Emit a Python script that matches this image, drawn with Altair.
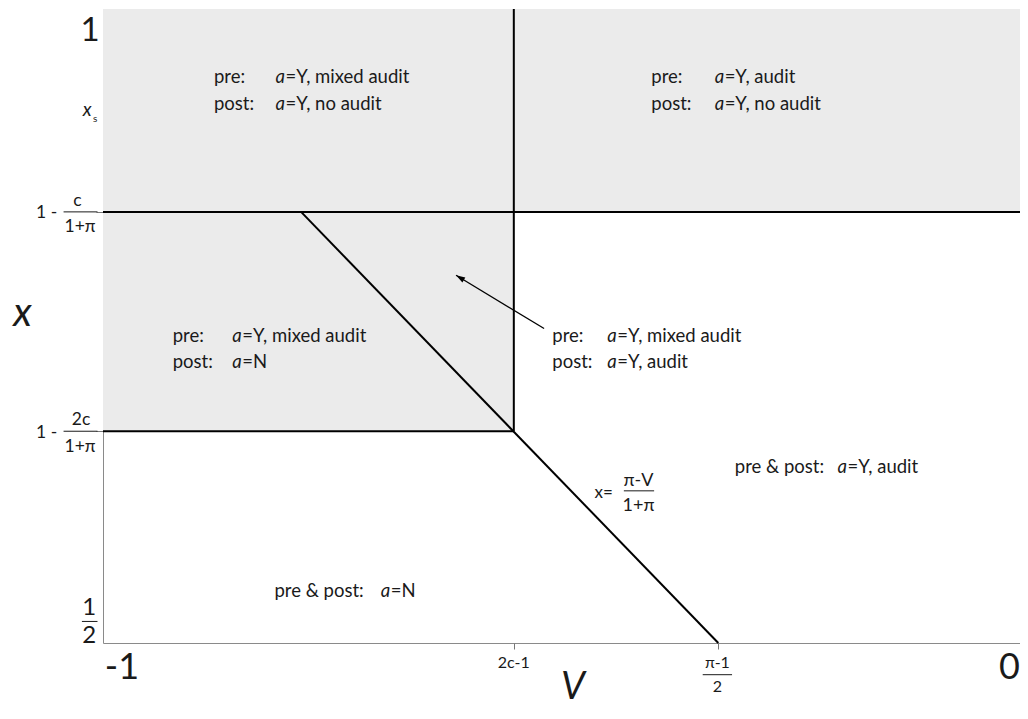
import altair as alt
import pandas as pd

FONT = "Lato"
INK = "#1a1a1a"

# Region boundaries (data units: V on horizontal axis, x on vertical axis)
V_2C1 = -0.552        # 2c-1
V_PI = -0.329         # (pi-1)/2
X_HI = 0.840          # 1 - c/(1+pi)
X_LO = 0.667          # 1 - 2c/(1+pi)
V_DIAG_TOP = -0.784   # where x=(pi-V)/(1+pi) meets X_HI

# Shaded regions
shade_v = [-1.0, -1.0]
shade_v2 = [0.0, V_2C1]
shade_x = [X_HI, X_LO]
shade_x2 = [1.0, X_HI]

# Boundary lines
line_v = [-1.0, -1.0, V_2C1, V_DIAG_TOP]
line_v2 = [0.0, V_2C1, V_2C1, V_PI]
line_x = [X_HI, X_LO, X_LO, X_HI]
line_x2 = [X_HI, X_LO, 1.0, 0.5]

# Arrow (tail -> head)
arrow_tail = (-0.519, 0.748)
arrow_head = (-0.615, 0.790)

# Fraction bars
bar_v = [-1.043, -1.043, -1.023, -0.346, -0.432]
bar_v2 = [-1.006, -1.006, -1.006, -0.314, -0.399]
bar_x = [X_HI, X_LO, 0.517, 0.475, 0.620]

R = 18.5  # region label size

# Text annotations
ital_text = ["a", "a", "a", "a", "a", "a", "a", "a", "a", "a", "x", "x", "V"]
ital_v = [-0.812, -0.812, -0.333, -0.333, -0.859, -0.859, -0.450, -0.450, -0.199, -0.697, -1.022, -1.098, -0.5005]
ital_x = [0.942, 0.920, 0.942, 0.920, 0.737, 0.717, 0.737, 0.717, 0.634, 0.536, 0.916, 0.750, 0.456]
ital_size = [R] * 10 + [19, 40, 38]

rest_text = ["=Y, mixed audit", "=Y, no audit", "=Y, audit", "=Y, no audit",
             "=Y, mixed audit", "=N", "=Y, mixed audit", "=Y, audit", "=Y, audit", "=N"]
rest_v = ital_v[:10]
rest_x = ital_x[:10]

left_text = ["pre:", "post:", "pre:", "post:", "pre:", "post:", "pre:", "post:",
             "pre & post:", "pre & post:", "x=", "s", "-1"]
left_v = [-0.879, -0.879, -0.402, -0.402, -0.924, -0.924, -0.510, -0.510,
          -0.311, -0.813, -0.464, -1.011, -0.998]
left_x = [0.942, 0.920, 0.942, 0.920, 0.737, 0.717, 0.737, 0.717,
          0.634, 0.536, 0.614, 0.911, 0.472]
left_size = [R] * 10 + [17, 10, 36]

center_text = ["π-V", "1+π", "2c-1", "π-1", "2", "c", "1+π", "2c", "1+π", "1", "2", "1"]
center_v = [-0.416, -0.416, -0.552, -0.330, -0.330, -1.028, -1.025, -1.024, -1.025, -1.015, -1.015, -1.014]
center_x = [0.624, 0.604, 0.480, 0.480, 0.461, 0.845, 0.824, 0.672, 0.651, 0.522, 0.500, 0.9745]
center_size = [18, 18, 16, 16, 16, 17.5, 17.5, 17.5, 17.5, 24, 24, 33]

right_text = ["1 -", "1 -", "0"]
right_v = [-1.050, -1.050, 0.0]
right_x = [0.835, 0.662, 0.472]
right_size = [17.5, 17.5, 36]

xs = alt.Scale(domain=[-1, 0], nice=False, zero=False)
ys = alt.Scale(domain=[0.5, 1], nice=False, zero=False)


def X(field, **kw):
    return alt.X(field, scale=xs, title=None, **kw)


def Y(field, **kw):
    return alt.Y(field, scale=ys, title=None, **kw)


shade = alt.Chart(pd.DataFrame({"v": shade_v, "v2": shade_v2, "x": shade_x, "x2": shade_x2})).mark_rect(
    color="#ebebeb"
).encode(
    x=X("v:Q", axis=alt.Axis(values=[V_2C1, V_PI], labels=False, ticks=True, tickSize=6,
                              tickColor="#777", domain=False, grid=False)),
    x2="v2:Q",
    y=Y("x:Q", axis=alt.Axis(values=[X_HI, X_LO], labels=False, ticks=True, tickSize=7,
                              tickColor="#777", domain=False, grid=False)),
    y2="x2:Q",
)

lines = alt.Chart(pd.DataFrame({"v": line_v, "v2": line_v2, "x": line_x, "x2": line_x2})).mark_rule(
    color="black", strokeWidth=2
).encode(x=X("v:Q"), x2="v2:Q", y=Y("x:Q"), y2="x2:Q")

arrow_df = pd.DataFrame({"v": [arrow_tail[0]], "v2": [arrow_head[0]],
                         "x": [arrow_tail[1]], "x2": [arrow_head[1]]})
arrow_line = alt.Chart(arrow_df).mark_rule(color="black", strokeWidth=1.3).encode(
    x=X("v:Q"), x2="v2:Q", y=Y("x:Q"), y2="x2:Q")
arrow_tip = alt.Chart(arrow_df).mark_point(
    shape="M0,0 L0.5,1.6 L-0.5,1.6 Z", filled=True, color="black", opacity=1, size=130, angle=301
).encode(x=X("v2:Q"), y=Y("x2:Q"))

bars = alt.Chart(pd.DataFrame({"v": bar_v, "v2": bar_v2, "x": bar_x})).mark_rule(
    color=INK, strokeWidth=1
).encode(x=X("v:Q"), x2="v2:Q", y=Y("x:Q"))


def text_layer(texts, vs, xvals, sizes, align, style="normal", dx=0):
    df = pd.DataFrame({"t": texts, "v": vs, "x": xvals, "s": sizes})
    return alt.Chart(df).mark_text(
        align=align, baseline="alphabetic", font=FONT, fontStyle=style, color=INK, dx=dx
    ).encode(x=X("v:Q"), y=Y("x:Q"), text="t:N", size=alt.Size("s:Q", scale=None, legend=None))


ital = text_layer(ital_text, ital_v, ital_x, ital_size, "left", "italic")
rest = text_layer(rest_text, rest_v, rest_x, [R] * 10, "left", dx=10)
left = text_layer(left_text, left_v, left_x, left_size, "left")
center = text_layer(center_text, center_v, center_x, center_size, "center")
right = text_layer(right_text, right_v, right_x, right_size, "right")

chart = alt.layer(shade, lines, arrow_line, arrow_tip, bars, ital, rest, left, center, right).properties(
    width=917, height=634,
    autosize=alt.AutoSizeParams(type="none"),
    padding={"left": 95, "top": 1, "right": 0, "bottom": 68},
).configure_view(stroke="#8a8a8a", strokeWidth=1)

chart.save("out.html", embed_options={"renderer": "svg", "actions": False})
